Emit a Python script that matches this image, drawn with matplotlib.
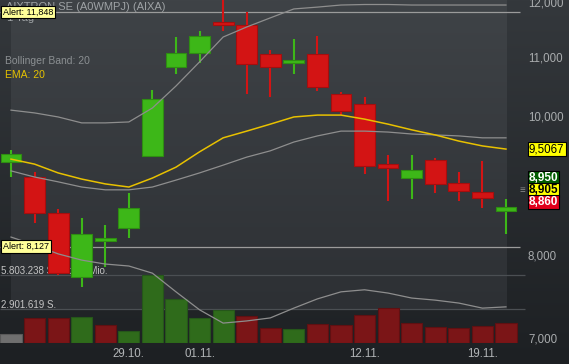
import numpy as np
import matplotlib.pyplot as plt
from matplotlib.colors import LinearSegmentedColormap
from matplotlib.transforms import Affine2D, blended_transform_factory

plt.rcParams['font.family'] = ['Liberation Sans', 'DejaVu Sans']

title = 'AIXTRON SE (A0WMPJ) (AIXA)'
period = '1 Tag'
date_pos = [5, 8, 15, 20]
date_labels = ['29.10.', '01.11.', '12.11.', '19.11.']
price_ticks = [7000, 8000, 10000, 11000, 12000]

# daily candles 22.10. - 20.11.
opens = [9312, 9090, 8580, 7743, 8203, 8376, 9402, 10846, 11092, 11658, 11602,
         11075, 10916, 11075, 10386, 10221, 9282, 9076, 9342, 9003, 8874, 8608]
highs = [9493, 9164, 8635, 8512, 8417, 8860, 10453, 11381, 11491, 12200, 11847,
         11146, 11344, 11399, 10419, 10336, 9417, 9417, 9372, 9164, 9327, 8775]
lows = [9090, 8444, 7767, 7619, 7868, 8243, 9387, 10725, 10916, 11491, 10386,
        10336, 10725, 10436, 10042, 9134, 8747, 8775, 8860, 8747, 8649, 8296]
closes = [9432, 8580, 7792, 8296, 8243, 8649, 10303, 11092, 11399, 11602, 10898,
          10846, 10968, 10503, 10106, 9252, 9223, 9193, 8989, 8889, 8789, 8663]
volumes = [770000, 2130000, 2130000, 2220000, 1540000, 1020000, 5800000, 3760000,
           2130000, 2820000, 2300000, 1280000, 1190000, 1620000, 1540000, 2390000,
           2990000, 1710000, 1370000, 1280000, 1450000, 1710000]

ema20 = [9355, 9280, 9150, 9060, 8990, 8945, 9075, 9235, 9465, 9680, 9785,
         9895, 10010, 10040, 10040, 9975, 9895, 9805, 9725, 9630, 9555, 9507]
bb_upper = [10120, 10075, 10010, 9915, 9915, 9930, 10155, 10520, 10935, 11380, 11565,
            11735, 11905, 11940, 11980, 11990, 11990, 11980, 11980, 11980, 11980, 11980]
bb_mid = [9180, 9090, 9020, 8945, 8905, 8905, 8945, 9045, 9150, 9265, 9385,
          9480, 9615, 9710, 9785, 9785, 9770, 9740, 9725, 9710, 9680, 9680]
bb_lower = [8255, 8150, 8035, 7955, 7905, 7880, 7790, 7560, 7345, 7190, 7215,
            7250, 7365, 7475, 7560, 7585, 7545, 7485, 7460, 7425, 7365, 7380]

alerts = [11848, 8127]
ema_label = '9,5067'
quotes = ['8,950', '8,905', '8,860']
quote_price = 8905
vol_grid = [5803238, 2901619]

W, H = 569, 364
fig = plt.figure(figsize=(W / 100, H / 100), dpi=100)
fig.patch.set_facecolor('#26292d')
px = Affine2D().scale(1 / W, -1 / H).translate(0, 1) + fig.transFigure

step = 23.57


def px2x(p):
    return (p - 11) / step


x_left, x_right = px2x(0), px2x(W)

# background gradients
bg = fig.add_axes([0, 0, 1, 1])
bg.set_axis_off()
grad = np.linspace(0, 1, 256).reshape(-1, 1)
bg.imshow(grad, cmap=LinearSegmentedColormap.from_list('b', ['#34383c', '#1d2023']),
          extent=[0, W, H, 0], aspect='auto')
bg.imshow(grad, cmap=LinearSegmentedColormap.from_list('p', ['#3f4347', '#2d3034']),
          extent=[11, 507, 309, 0], aspect='auto')
bg.set_xlim(0, W)
bg.set_ylim(H, 0)

rect = [0, 21 / H, 1, 343 / H]
axv = fig.add_axes(rect)
ax = fig.add_axes(rect)
for a in (axv, ax):
    a.set_axis_off()
    a.patch.set_visible(False)
    a.set_xlim(x_left, x_right)

n = len(closes)
idx = np.arange(n)
o = np.array(opens)
c = np.array(closes)

# volume
vol_fc = ['#6f6f6f'] + ['#2f6b1b' if closes[i] >= closes[i - 1] else '#7b1517' for i in range(1, n)]
vol_ec = ['#595959'] + ['#25561a' if closes[i] >= closes[i - 1] else '#5f1012' for i in range(1, n)]
axv.bar(idx, volumes, width=0.9, color=vol_fc, edgecolor=vol_ec, linewidth=0.8, zorder=2)
axv.set_ylim(0, vol_grid[0] * 343 / 68)
axv.hlines(vol_grid, x_left, px2x(525), color='#4b4f53', lw=0.9, zorder=1)
axv.text(1, 273.5, f'{vol_grid[0]:,}'.replace(',', '.') + ' Stücke in Mio.', transform=px,
         fontsize=7, color='#c4c4c4', va='baseline')
axv.text(1, 307.5, f'{vol_grid[1]:,}'.replace(',', '.') + ' S.', transform=px,
         fontsize=7, color='#c4c4c4', va='baseline')

# price
ax.set_yscale('log')
ax.set_ylim(6964, 12077)
ax.hlines(alerts, x_left, px2x(520), color='#9b9b9b', lw=0.9, zorder=1)

up = c >= o
body_fc = np.where(up, '#3db718', '#d31414')
body_ec = np.where(up, '#2e8d12', '#a50e0e')
ax.vlines(idx, lows, highs, colors=body_fc, lw=1.5, zorder=2)
ax.bar(idx, np.abs(c - o), bottom=np.minimum(o, c), width=0.88, color=body_fc,
       edgecolor=body_ec, linewidth=0.8, zorder=2.5)

for band in (bb_upper, bb_mid, bb_lower):
    ax.plot(idx, band, color='#8e8e8e', lw=0.9, zorder=3)
ax.plot(idx, ema20, color='#e8c100', lw=1.1, zorder=3)

ytrans = blended_transform_factory(px, ax.transData)
xtrans = blended_transform_factory(ax.transData, px)

for v in price_ticks:
    ax.text(528, v, f'{v:,}', transform=ytrans, va='center', ha='left',
            color='#a9acae', fontsize=8.3)

for i, lab in zip(date_pos, date_labels):
    ax.text(i, 354, lab, transform=xtrans, ha='center', va='center',
            color='#b2b5b7', fontsize=8.3)

for a in alerts:
    ax.text(3, a, f'Alert: {a:,}', transform=ytrans, va='center', fontsize=6.5,
            color='black', zorder=6,
            bbox=dict(boxstyle='square,pad=0.2', fc='#ffff99', ec='black', lw=0.8))

ax.text(529, ema20[-1], ema_label, transform=ytrans, va='center', fontsize=8.3,
        color='black', zorder=6,
        bbox=dict(boxstyle='square,pad=0.12', fc='#ffff00', ec='black', lw=0.8))

quote_style = [('#005c00', 'white', 12), ('#ffff00', 'black', 0), ('#e0001b', 'white', -12)]
for q, (fc, tc, dy) in zip(quotes, quote_style):
    ax.annotate(q, xy=(529, quote_price), xycoords=ytrans, xytext=(0, dy),
                textcoords='offset pixels', va='center', fontsize=8.5, fontweight='bold',
                color=tc, zorder=6,
                bbox=dict(boxstyle='square,pad=0.06', fc=fc, ec='black', lw=0.8))
ax.annotate('≡', xy=(520, quote_price), xycoords=ytrans, va='center', fontsize=7,
            color='#8e8e8e')

ax.text(6, 10.5, title, transform=px, va='baseline', color='#9ea2a5', fontsize=8)
ax.text(7, 21, period, transform=px, va='baseline', color='#9ea2a5', fontsize=8)
ax.text(5, 64, 'Bollinger Band: 20', transform=px, va='baseline', color='#8b8f92', fontsize=7.5)
ax.text(5, 78, 'EMA: 20', transform=px, va='baseline', color='#e5c200', fontsize=7.5)

fig.savefig('out.png', dpi=100, facecolor=fig.get_facecolor())
